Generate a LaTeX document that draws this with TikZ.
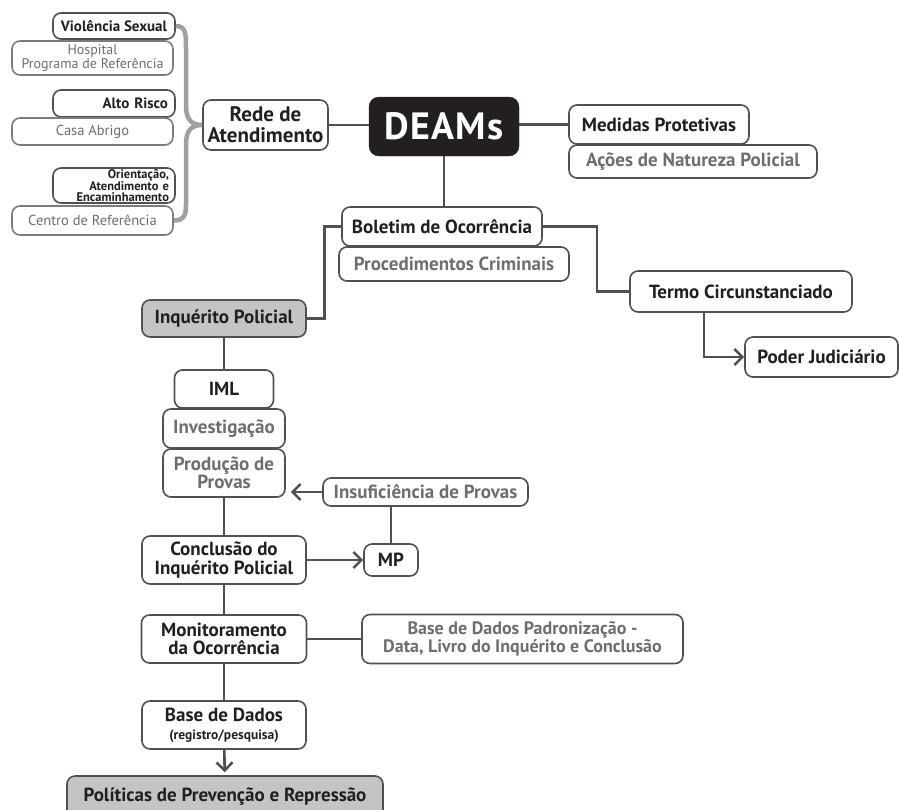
\documentclass[tikz,border=0pt]{standalone}
\usepackage{fontspec}
\setmainfont{PT Sans}
\usepackage{tikz}
\usetikzlibrary{arrows.meta}
\definecolor{ink}{HTML}{231F20}
\definecolor{frame}{HTML}{505050}
\definecolor{soft}{HTML}{6D6E71}
\definecolor{shade}{HTML}{C4C4C4}
\definecolor{bracegray}{HTML}{A0A0A0}
\newcommand{\sz}[2]{\fontsize{#1}{#2}\selectfont}

\begin{document}
\begin{tikzpicture}[x=1pt,y=-1pt,>={Straight Barb[length=8pt,width=16pt]},
  mainbox/.style={draw=frame,line width=1.6pt,rounded corners=8pt,fill=white,align=center,inner sep=2pt,text=ink,font=\sz{19}{18.5}\bfseries},
  greybox/.style={mainbox,text=soft},
  subbox/.style={mainbox,draw=frame!75,text=soft,font=\sz{14.5}{14}},
  smallbox/.style={mainbox,font=\sz{15}{15}\bfseries},
  linkline/.style={frame,line width=2.6pt}]
\useasboundingbox (0,0) rectangle (899,809);
\node[smallbox,minimum width=122pt,minimum height=26pt] (vs) at (114,26) {Violência Sexual};
\node[subbox,font=\sz{14}{14},minimum width=161pt,minimum height=34pt] (hosp) at (92.5,58) {Hospital\\Programa de Referência};
\node[smallbox,text width=108pt,inner xsep=7pt,align=right,minimum height=27pt] (alto) at (114,103.5) {Alto Risco};
\node[subbox,minimum width=161pt,minimum height=27pt] (casa) at (92.5,131.5) {Casa Abrigo};
\node[smallbox,font=\sz{12.5}{11.2}\bfseries,text width=110pt,inner xsep=6pt,inner ysep=1pt,align=right,minimum height=35pt] (orient) at (114,185.5) {Orientação,\\Atendimento e\\Encaminhamento};
\node[subbox,minimum width=161pt,minimum height=29pt] (centro) at (92.5,220.5) {Centro de Referência};
\node[mainbox,font=\sz{21}{21}\bfseries,minimum width=125pt,minimum height=50pt] (rede) at (265.5,125) {Rede de\\Atendimento};
\node[fill=ink,draw=ink,rounded corners=10pt,text=white,font=\sz{38}{40}\bfseries\addfontfeature{LetterSpace=4},minimum width=150pt,minimum height=59pt] (deams) at (444,126.5) {DEAMs};
\node[mainbox,minimum width=180pt,minimum height=39pt] (med) at (659,124.5) {Medidas Protetivas};
\node[greybox,minimum width=248pt,minimum height=33pt] (acoes) at (693,161.5) {Ações de Natureza Policial};
\node[mainbox,minimum width=200pt,minimum height=39pt] (bol) at (442,226.5) {Boletim de Ocorrência};
\node[greybox,minimum width=230pt,minimum height=34pt] (proc) at (454,264) {Procedimentos Criminais};
\node[mainbox,minimum width=222pt,minimum height=41pt] (termo) at (741,291.5) {Termo Circunstanciado};
\node[mainbox,minimum width=153pt,minimum height=40pt] (poder) at (821.5,357) {Poder Judiciário};
\node[mainbox,fill=shade,minimum width=164pt,minimum height=37pt] (inq) at (224,318.5) {Inquérito Policial};
\node[mainbox,minimum width=99pt,minimum height=38pt] (iml) at (224,389) {IML};
\node[greybox,minimum width=122pt,minimum height=39pt] (invest) at (224,428.5) {Investigação};
\node[greybox,minimum width=122pt,minimum height=48pt] (prod) at (224,473) {Produção de\\Provas};
\node[greybox,minimum width=205pt,minimum height=28pt] (insuf) at (425.5,492) {Insuficiência de Provas};
\node[mainbox,minimum width=54pt,minimum height=32pt] (mp) at (391,560) {MP};
\node[mainbox,minimum width=164pt,minimum height=48pt] (concl) at (224,560) {Conclusão do\\Inquérito Policial};
\node[mainbox,minimum width=165pt,minimum height=48pt] (monit) at (224,639) {Monitoramento\\da Ocorrência};
\node[greybox,font=\sz{18}{18.5}\bfseries,minimum width=321pt,minimum height=49pt] (basep) at (522.5,639) {Base de Dados Padronização -\\Data, Livro do Inquérito e Conclusão};
\node[mainbox,minimum width=164pt,minimum height=48pt] (based) at (224,725) {Base de Dados\\{\sz{13.5}{15}(registro/pesquisa)}};
\node[mainbox,fill=shade,minimum width=316pt,minimum height=42pt] (polit) at (225,797) {Políticas de Prevenção e Repressão};
\draw[bracegray,line width=4.5pt] (vs.east) .. controls (186,26) and (186,34) .. (186,48) -- (186,106)
  .. controls (186,120) and (192,125) .. (rede.west) .. controls (192,125) and (186,130) .. (186,144)
  -- (186,204) .. controls (186,216) and (184,220.5) .. (centro.east);
\draw[linkline] (rede.east) -- (rede.east -| deams.west);
\draw[linkline] (deams.east |- med.west) -- (med.west);
\draw[linkline] (deams.south) -- (deams.south |- bol.north);
\draw[linkline] (bol.east) -- ++(54,0) |- (termo.west);
\draw[linkline,->] ([xshift=-37pt]termo.south) |- (poder.west);
\draw[linkline] (bol.west) -- ++(-17,0) |- (inq.east);
\draw[linkline] (inq) -- (iml);
\draw[linkline] (prod) -- (concl);
\draw[linkline,->,shorten >=5pt] (insuf.west) -- (insuf.west -| prod.east);
\draw[linkline] (mp.north |- insuf.south) -- (mp.north);
\draw[linkline,->] (concl) -- (mp);
\draw[linkline] (concl) -- (monit);
\draw[linkline] (monit) -- (basep);
\draw[linkline] (monit) -- (based);
\draw[linkline,->,shorten >=3pt] (based) -- (polit);
\end{tikzpicture}
\end{document}
